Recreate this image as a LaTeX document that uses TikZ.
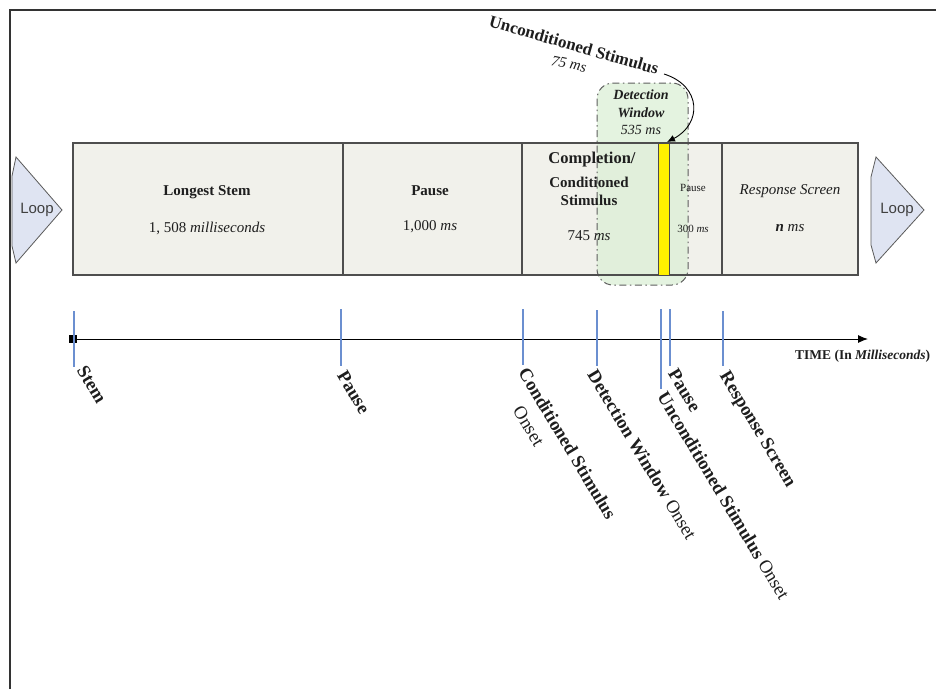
\documentclass[tikz,border=0pt]{standalone}
\usepackage{fontspec}
\setmainfont{Liberation Serif}
\newfontfamily\arialf{Liberation Sans}
\usetikzlibrary{arrows.meta}
\definecolor{boxfill}{HTML}{F1F1EB}
\definecolor{boxline}{HTML}{4E4E4E}
\definecolor{loopfill}{HTML}{DFE4F2}
\definecolor{loopline}{HTML}{5A5A5A}
\definecolor{winfill}{HTML}{DCEFD6}
\definecolor{winline}{HTML}{5E5E5E}
\definecolor{tickblue}{HTML}{6B8FD0}
\definecolor{txt}{HTML}{1E1E1E}
\definecolor{ybar}{HTML}{FFF200}
\newcommand{\fsz}[2]{\fontsize{#1}{#2}\selectfont}
\begin{document}
\begin{tikzpicture}[x=1pt,y=1pt,
  frameline/.style={draw=black!80,line width=1.1pt},
  loopshape/.style={fill=loopfill,draw=loopline,line width=0.8pt},
  looptext/.style={font=\arialf\fsz{15}{18},text=black!75,inner sep=0},
  segline/.style={draw=boxline,line width=1.4pt},
  window/.style={fill=winfill,fill opacity=0.75,draw=winline,draw opacity=1,line width=1pt,
     dash pattern=on 7pt off 3.5pt on 1.5pt off 3.5pt,rounded corners=16pt},
  yellowbar/.style={fill=ybar,draw=black!70,line width=1pt},
  boxt/.style={text=txt,inner sep=0,font=\fsz{15}{18}},
  tickline/.style={draw=tickblue,line width=1.2pt},
  vlabel/.style={text=txt,inner sep=0,rotate=-59,anchor=north west,font=\fsz{18.5}{22}},
  axisline/.style={draw=black,line width=1pt,-{Latex[length=10pt,width=8pt]}}
]
\useasboundingbox (0,0) rectangle (936,-689);
\fill[white] (0,0) rectangle (936,-689);
% frame
\draw[frameline] (10,-689) -- (10,-10) -- (936,-10);

% loop shapes
\draw[loopshape] (16,-157) -- (62,-210) -- (16,-263) -- (12,-246) -- (12,-176) -- cycle;
\node[looptext] (loopL) at (37,-210) {Loop};
\draw[loopshape] (876,-157) -- (924,-210) -- (876,-263) -- (871,-245) -- (871,-177) -- cycle;
\node[looptext] (loopR) at (897,-210) {Loop};

% segment background
\fill[boxfill] (73,-143) rectangle (858,-275);
% detection window
\path[window] (597,-83) rectangle (688,-285);
% segment outlines
\draw[segline] (73,-143) rectangle (858,-275);
\draw[segline] (343,-143) -- (343,-275);
\draw[segline] (522,-143) -- (522,-275);
\draw[segline] (722,-143) -- (722,-275);
\draw[yellowbar] (658,-143) rectangle (669,-275);

% segment texts
\node[boxt,font=\bfseries\fsz{15}{18}] (n1a) at (207,-192) {Longest Stem};
\node[boxt] (n1b) at (207,-228) {1, 508 \textit{milliseconds}};
\node[boxt,font=\bfseries\fsz{15}{18}] (n2a) at (430,-191) {Pause};
\node[boxt] (n2b) at (430,-227) {1,000 \textit{ms}};
\node[boxt,font=\bfseries\fsz{16.5}{19}] (n3a) at (592,-160) {Completion/};
\node[boxt,font=\bfseries\fsz{15}{18}] (n3b) at (589,-182) {Conditioned};
\node[boxt,font=\bfseries\fsz{15}{18}] (n3c) at (589,-200) {Stimulus};
\node[boxt] (n3d) at (589,-236) {745 \textit{ms}};
\node[boxt,font=\fsz{11}{13}] (n4a) at (693,-188) {Pause};
\node[boxt,font=\fsz{11}{13}] (n4b) at (693,-229) {300 \textit{ms}};
\node[boxt,font=\itshape\fsz{15}{18}] (n5a) at (790,-191) {Response Screen};
\node[boxt,font=\itshape\fsz{15}{18}] (n5b) at (790,-228) {\textbf{n} ms};

% detection window texts
\node[boxt,font=\bfseries\itshape\fsz{14}{17}] (dw1) at (641,-95) {Detection};
\node[boxt,font=\bfseries\itshape\fsz{14}{17}] (dw2) at (641,-113) {Window};
\node[boxt,font=\itshape\fsz{14}{17}] (dw3) at (641,-130) {535 ms};

% unconditioned stimulus callout
\node[boxt,font=\bfseries\fsz{17}{20},rotate=-16] (ucs) at (574,-45) {Unconditioned Stimulus};
\node[boxt,font=\itshape\fsz{15}{18},rotate=-12] (ucsms) at (569,-64) {75 ms};
\coordinate (arrS) at (664,-74);
\coordinate (arrE) at (667,-142);
\draw[black,line width=0.9pt,-{Latex[length=8pt,width=7pt]}] (arrS) .. controls (702,-86) and (702,-124) .. (arrE);

% time axis
\coordinate (t0) at (73,-339);
\coordinate (t1) at (868,-339);
\draw[axisline] (t0) -- (t1);
\node[fill=black,minimum size=8pt,inner sep=0] (sq) at (t0) {};
\node[anchor=west,inner sep=0,text=txt,font=\bfseries\fsz{13.5}{16}] (timel) at (795,-356) {TIME (In \textit{Milliseconds})};

% ticks
\draw[tickline] (74,-311) -- (74,-367);
\draw[tickline] (341,-309) -- (341,-366);
\draw[tickline] (523,-309) -- (523,-365);
\draw[tickline] (597,-310) -- (597,-366);
\draw[tickline] (661,-309) -- (661,-389);
\draw[tickline] (670,-309) -- (670,-366);
\draw[tickline] (723,-311) -- (723,-366);

% rotated labels
\node[vlabel] (lstem) at (87,-364) {\textbf{Stem}};
\node[vlabel] (lpause) at (347,-369) {\textbf{Pause}};
\node[vlabel] (lcs) at (529,-366) {\textbf{Conditioned Stimulus}};
\node[vlabel] (lcson) at (523,-404) {Onset};
\node[vlabel] (ldw) at (598,-368) {\textbf{Detection Window} Onset};
\node[vlabel] (lucs) at (668,-390) {\textbf{Unconditioned Stimulus} Onset};
\node[vlabel] (lpause2) at (678,-367) {\textbf{Pause}};
\node[vlabel] (lrs) at (730,-369) {\textbf{Response Screen}};
\end{tikzpicture}
\end{document}
